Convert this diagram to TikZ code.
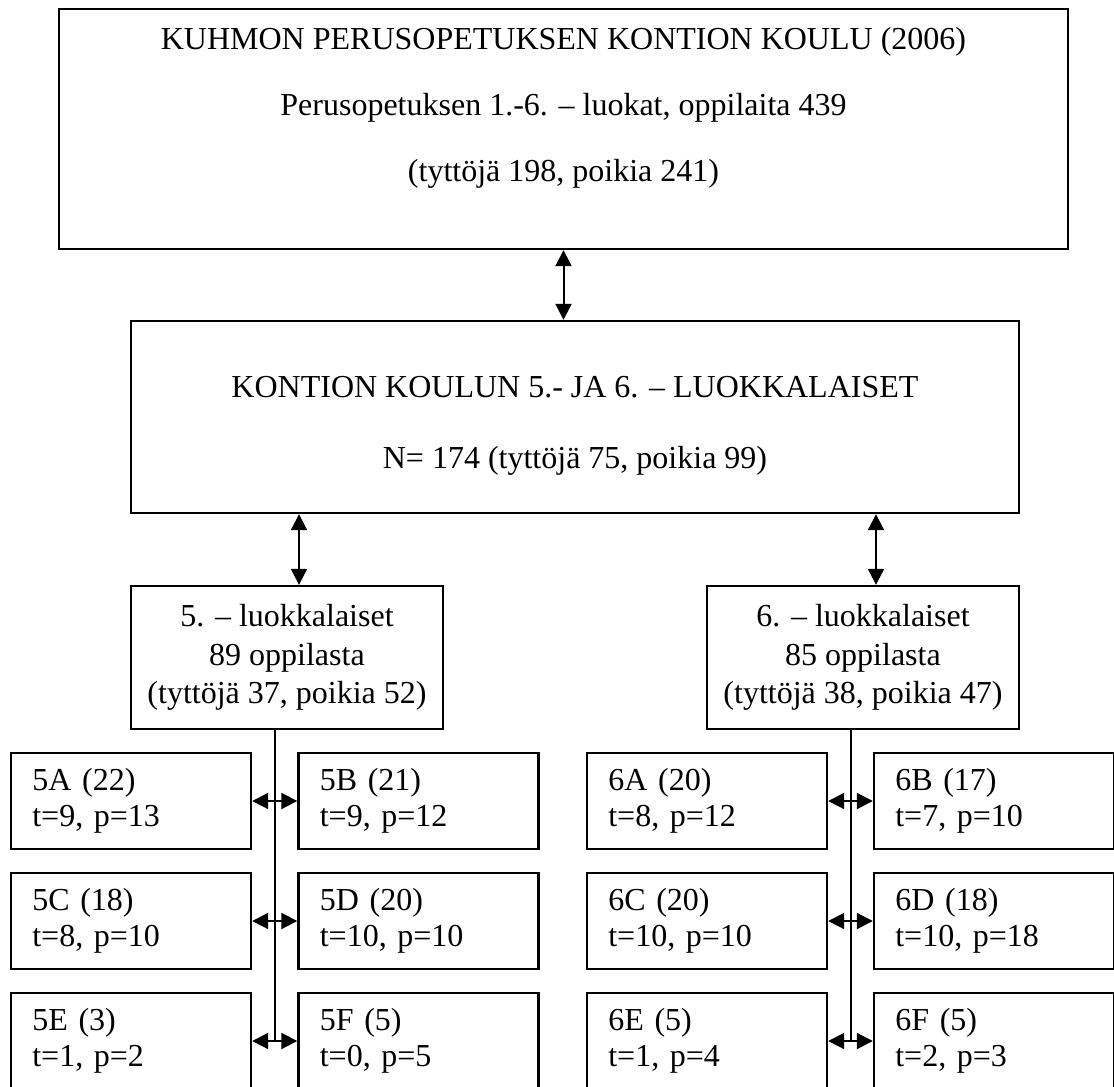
\documentclass[tikz,border=0pt]{standalone}
\usepackage{fontspec}
\setmainfont{Liberation Serif}
\usetikzlibrary{positioning}
\usetikzlibrary{calc}
\usetikzlibrary{arrows.meta}

\begin{document}
\begin{tikzpicture}[x=0.375pt, y=-0.375pt,
    box/.style={draw, line width=0.9pt, inner sep=0pt, font=\fontsize{12}{14.5}\selectfont},
    ryhma/.style={box, minimum width=117pt, minimum height=53.6pt, align=center},
    luokka/.style={box, minimum width=90pt, minimum height=36pt, text width=74pt, align=left,
      font=\fontsize{12}{13.5}\selectfont},
    kaksi/.style={{Triangle[length=6pt,width=6pt]}-{Triangle[length=6pt,width=6pt]}, line width=0.75pt}]
  \useasboundingbox (0,0) rectangle (1114,1086);

  \node[box, minimum width=378.4pt, minimum height=90pt, align=center] (koulu) at (563.5,129)
    {KUHMON PERUSOPETUKSEN KONTION KOULU (2006)\\[10.25pt]
     Perusopetuksen 1.-6. -- luokat, oppilaita 439\\[10.25pt]
     (tyttöjä 198, poikia 241)\rule[-18.8pt]{0pt}{18.8pt}};
  \node[box, minimum width=333pt, minimum height=72pt, align=center] (kontio) at (575,417)
    {\rule{0pt}{14.5pt}KONTION KOULUN 5.- JA 6. -- LUOKKALAISET\\[12pt]
     N= 174 (tyttöjä 75, poikia 99)};

  \node[ryhma] (c5) at (287,657.5) {5. -- luokkalaiset\\89 oppilasta\\(tyttöjä 37, poikia 52)};
  \node[ryhma] (c6) at (863,657.5) {6. -- luokkalaiset\\85 oppilasta\\(tyttöjä 38, poikia 47)};

  % viidennet luokat
  \node[luokka] (k5A) at (131,801)   {5A (22)\\t=9, p=13};
  \node[luokka] (k5B) at (418.5,801) {5B (21)\\t=9, p=12};
  \node[luokka] (k5C) at (131,921)   {5C (18)\\t=8, p=10};
  \node[luokka] (k5D) at (418.5,921) {5D (20)\\t=10, p=10};
  \node[luokka] (k5E) at (131,1041)  {5E (3)\\t=1, p=2};
  \node[luokka] (k5F) at (418.5,1041) {5F (5)\\t=0, p=5};

  % kuudennet luokat
  \node[luokka] (k6A) at (707,801)  {6A (20)\\t=8, p=12};
  \node[luokka] (k6B) at (994,801)  {6B (17)\\t=7, p=10};
  \node[luokka] (k6C) at (707,921)  {6C (20)\\t=10, p=10};
  \node[luokka] (k6D) at (994,921)  {6D (18)\\t=10, p=18};
  \node[luokka] (k6E) at (707,1041) {6E (5)\\t=1, p=4};
  \node[luokka] (k6F) at (994,1041) {6F (5)\\t=2, p=3};

  \coordinate (v5) at (299,0);
  \coordinate (v6) at (876,0);
  \coordinate (r5) at ($(k5E.east)!.5!(k5F.west)$);
  \coordinate (r6) at ($(k6E.east)!.5!(k6F.west)$);

  \draw[kaksi] (koulu.south) -- (koulu.south |- kontio.north);
  \draw[kaksi] (kontio.south -| v5) -- (c5.north -| v5);
  \draw[kaksi] (kontio.south -| v6) -- (c6.north -| v6);

  \draw[line width=0.75pt] (c5.south -| r5) -- (r5);
  \draw[line width=0.75pt] (c6.south -| r6) -- (r6);

  \draw[kaksi] (k5A.east) -- (k5B.west);
  \draw[kaksi] (k5C.east) -- (k5D.west);
  \draw[kaksi] (k5E.east) -- (k5F.west);
  \draw[kaksi] (k6A.east) -- (k6B.west);
  \draw[kaksi] (k6C.east) -- (k6D.west);
  \draw[kaksi] (k6E.east) -- (k6F.west);
\end{tikzpicture}
\end{document}
